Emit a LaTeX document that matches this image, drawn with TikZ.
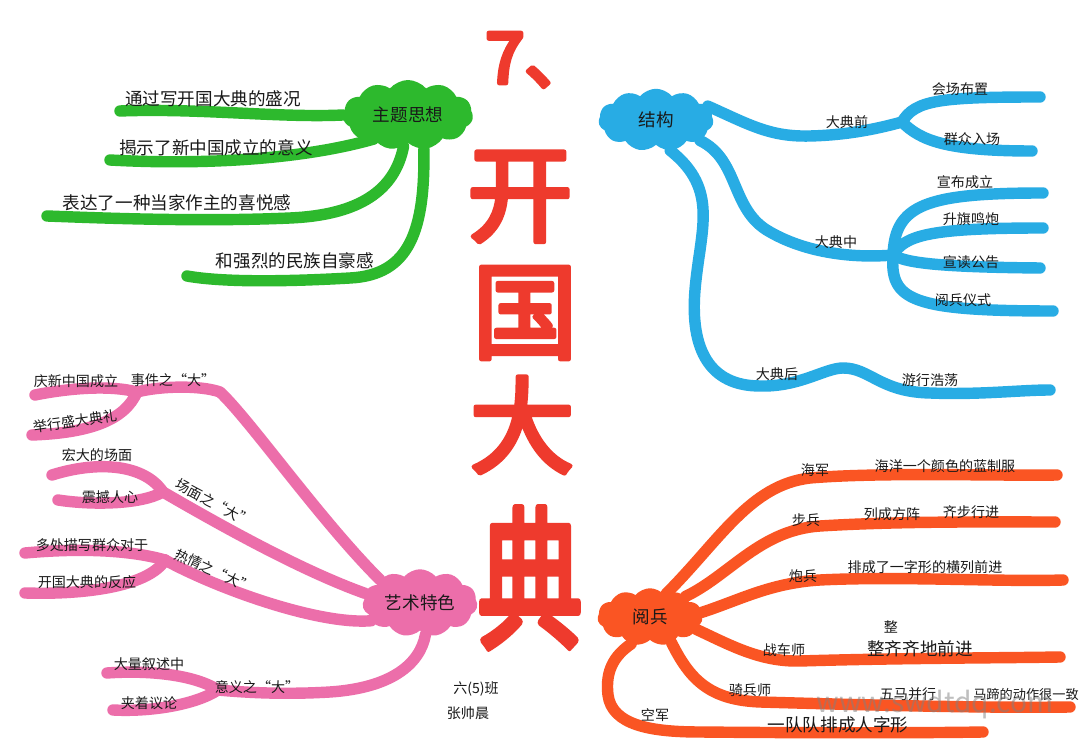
\documentclass[tikz,border=0pt]{standalone}
\usepackage{fontspec}
\setmainfont{Noto Sans CJK SC}
\usetikzlibrary{shapes.symbols}
\definecolor{mygreen}{RGB}{45, 185, 45}
\definecolor{myblue}{RGB}{40, 172, 228}
\definecolor{mypink}{RGB}{236, 110, 170}
\definecolor{myorange}{RGB}{250, 85, 35}
\definecolor{myred}{RGB}{238, 58, 45}
\definecolor{mydark}{RGB}{25, 25, 25}
\pgfdeclarelayer{bg}
\pgfsetlayers{bg,main}
\newcommand{\brush}[1]{\special{pdf:code 2 Tr 2.6 w 1 j}#1\special{pdf:code 0 Tr}}

\begin{document}
\begin{tikzpicture}[x=0.02cm, y=-0.02cm]
\tikzset{
  topic/.style={cloud, cloud puffs=11, cloud puff arc=100, cloud ignores aspect, inner sep=0pt, font=\fontsize{10}{12}\selectfont, mydark},
  branch/.style={line width=6.5pt, line cap=round, line join=round},
  lbl/.style={inner sep=0pt, font=\fontsize{10}{12}\selectfont, mydark},
  sublbl/.style={inner sep=0pt, font=\fontsize{8}{10}\selectfont, mydark},
  titlechar/.style={inner sep=0pt, myred, font=\fontsize{60}{60}\selectfont}
}
\useasboundingbox (0,0) rectangle (1080,749);

% title
\node[titlechar, font=\fontsize{40}{40}\selectfont] (t0) at (540,60) {\brush{7、}};
\node[titlechar] (t1) at (520,197) {\brush{开}};
\node[titlechar] (t2) at (525,313) {\brush{国}};
\node[titlechar] (t3) at (522,425) {\brush{大}};
\node[titlechar] (t4) at (530,578) {\scalebox{1}[1.45]{\brush{典}}};

% clouds
\node[topic, fill=mygreen, minimum width=2.6cm, minimum height=1.4cm] (zt) at (408,115) {主题思想};
\node[topic, fill=myblue, minimum width=2.3cm, minimum height=1.25cm] (bt) at (656,120) {结构};
\node[topic, fill=mypink, minimum width=2.3cm, minimum height=1.35cm] (yt) at (420,603) {艺术特色};
\node[topic, fill=myorange, minimum width=2.1cm, minimum height=1.15cm] (rt) at (650,617) {阅兵};

% branch ends
\coordinate (g1) at (120,111);
\coordinate (g2) at (110,160);
\coordinate (g3) at (47,216);
\coordinate (g4) at (187,276);
\coordinate (bq) at (902,122);
\coordinate (bz) at (893,255);
\coordinate (b1) at (1040,97);
\coordinate (b2) at (1032,151);
\coordinate (b3) at (1043,193);
\coordinate (b4) at (1043,228);
\coordinate (b5) at (1040,268);
\coordinate (b6) at (1053,311);
\coordinate (b7) at (1050,390);
\coordinate (pa) at (137,392);
\coordinate (pb) at (163,492);
\coordinate (pc) at (165,560);
\coordinate (pd) at (218,690);
\coordinate (p1) at (35,395);
\coordinate (p2) at (32,435);
\coordinate (p3) at (52,475);
\coordinate (p4) at (58,500);
\coordinate (p5) at (25,553);
\coordinate (p6) at (25,593);
\coordinate (p7) at (107,673);
\coordinate (p8) at (113,710);
\coordinate (r1) at (1057,475);
\coordinate (r2) at (1055,522);
\coordinate (r3) at (1063,580);
\coordinate (r4) at (1060,657);
\coordinate (r5) at (1070,707);
\coordinate (r6) at (983,732);

\begin{pgfonlayer}{bg}
\fill[white] (0,0) rectangle (1080,749);
% green
\draw[branch, mygreen] (zt.west) .. controls (280,118) and (200,108) .. (g1);
\draw[branch, mygreen] (zt.215) .. controls (300,160) and (200,165) .. (g2);
\draw[branch, mygreen] (zt.262) .. controls (395,190) and (360,215) .. (290,218) .. controls (200,222) and (100,218) .. (g3);
\draw[branch, mygreen] (zt.295) .. controls (425,230) and (410,275) .. (350,278) .. controls (280,282) and (220,282) .. (g4);
% blue
\draw[branch, myblue] (bt.15) .. controls (750,125) and (770,137) .. (810,136) .. controls (850,135) and (880,128) .. (bq);
\draw[branch, myblue] (bq) .. controls (915,100) and (940,97) .. (b1);
\draw[branch, myblue] (bq) .. controls (920,140) and (945,151) .. (b2);
\draw[branch, myblue] (bt.-25) .. controls (740,160) and (730,210) .. (770,232) .. controls (810,255) and (860,258) .. (bz);
\draw[branch, myblue] (bz) .. controls (895,205) and (925,193) .. (b3);
\draw[branch, myblue] (bz) .. controls (905,235) and (930,228) .. (b4);
\draw[branch, myblue] (bz) .. controls (905,262) and (930,267) .. (b5);
\draw[branch, myblue] (bz) .. controls (890,300) and (910,311) .. (b6);
\draw[branch, myblue] (bt.-65) .. controls (720,190) and (700,230) .. (695,290) .. controls (690,350) and (710,386) .. (760,386) .. controls (800,387) and (825,368) .. (843,368) .. controls (870,368) and (880,392) .. (930,393) .. controls (980,395) and (1020,390) .. (b7);
% pink
\draw[branch, mypink] (yt.150) .. controls (320,520) and (250,420) .. (220,392) .. controls (200,385) and (160,386) .. (pa);
\draw[branch, mypink] (pa) .. controls (110,385) and (70,388) .. (p1);
\draw[branch, mypink] (pa) .. controls (125,420) and (90,433) .. (p2);
\draw[branch, mypink] (yt.170) .. controls (300,570) and (220,525) .. (pb);
\draw[branch, mypink] (pb) .. controls (145,465) and (100,460) .. (p3);
\draw[branch, mypink] (pb) .. controls (140,505) and (90,505) .. (p4);
\draw[branch, mypink] (yt.200) .. controls (320,625) and (220,590) .. (pc);
\draw[branch, mypink] (pc) .. controls (130,550) and (80,548) .. (p5);
\draw[branch, mypink] (pc) .. controls (150,585) and (90,595) .. (p6);
\draw[branch, mypink] (yt.280) .. controls (420,665) and (390,688) .. (330,692) .. controls (280,695) and (240,692) .. (pd);
\draw[branch, mypink] (pd) .. controls (195,675) and (150,670) .. (p7);
\draw[branch, mypink] (pd) .. controls (195,705) and (150,712) .. (p8);
% orange
\draw[branch, myorange] (rt.55) .. controls (720,540) and (750,485) .. (810,478) .. controls (880,472) and (1000,476) .. (r1);
\draw[branch, myorange] (rt.30) .. controls (730,575) and (760,530) .. (820,526) .. controls (900,521) and (1000,522) .. (r2);
\draw[branch, myorange] (rt.5) .. controls (740,600) and (770,583) .. (820,580) .. controls (900,576) and (1000,582) .. (r3);
\draw[branch, myorange] (rt.-15) .. controls (730,645) and (760,662) .. (800,661) .. controls (900,658) and (1000,658) .. (r4);
\draw[branch, myorange] (rt.-50) .. controls (690,680) and (710,700) .. (760,702) .. controls (900,706) and (1000,708) .. (r5);
\draw[branch, myorange] (rt.-125) .. controls (615,655) and (605,670) .. (608,695) .. controls (612,725) and (650,732) .. (700,732) .. controls (800,733) and (930,733) .. (r6);
\end{pgfonlayer}

% green labels
\node[lbl] (g1t) at (213,99) {通过写开国大典的盛况};
\node[lbl] (g2t) at (216,148) {揭示了新中国成立的意义};
\node[lbl] (g3t) at (177,203) {表达了一种当家作主的喜悦感};
\node[lbl] (g4t) at (295,261) {和强烈的民族自豪感};

% blue labels
\node[sublbl] (bqt) at (847,122) {大典前};
\node[sublbl] (b1t) at (960,89) {会场布置};
\node[sublbl] (b2t) at (972,139) {群众入场};
\node[sublbl] (bzt) at (836,242) {大典中};
\node[sublbl] (b3t) at (965,182) {宣布成立};
\node[sublbl] (b4t) at (971,219) {升旗鸣炮};
\node[sublbl] (b5t) at (971,262) {宣读公告};
\node[sublbl] (b6t) at (963,300) {阅兵仪式};
\node[sublbl] (bht) at (777,374) {大典后};
\node[sublbl] (b7t) at (930,380) {游行浩荡};

% pink labels
\node[sublbl] (pat) at (173,380) {事件之“大”};
\node[sublbl] (p1t) at (76,381) {庆新中国成立};
\node[sublbl, rotate=8] (p2t) at (75,421) {举行盛大典礼};
\node[sublbl] (pbt) at (97,455) {宏大的场面};
\node[sublbl] (p4t) at (110,497) {震撼人心};
\node[sublbl, rotate=-28] (p3t) at (214,503) {场面之“大”};
\node[sublbl] (p5t) at (92,545) {多处描写群众对于};
\node[sublbl] (p6t) at (87,582) {开国大典的反应};
\node[sublbl, rotate=-25] (pct) at (214,571) {热情之“大”};
\node[sublbl] (p7t) at (149,664) {大量叙述中};
\node[sublbl] (p8t) at (149,703) {夹着议论};
\node[sublbl] (pdt) at (257,687) {意义之“大”};

% orange labels
\node[sublbl] (r1a) at (815,470) {海军};
\node[sublbl] (r1t) at (945,466) {海洋一个颜色的蓝制服};
\node[sublbl] (r2a) at (806,520) {步兵};
\node[sublbl] (r2t) at (892,514) {列成方阵};
\node[sublbl] (r2u) at (971,512) {齐步行进};
\node[sublbl] (r3a) at (803,576) {炮兵};
\node[sublbl] (r3t) at (925,567) {排成了一字形的横列前进};
\node[sublbl] (r4a) at (784,650) {战车师};
\node[lbl] (r4t) at (920,649) {整齐齐地前进};
\node[sublbl] (r4u) at (891,627) {整};
\node[sublbl] (r5a) at (750,690) {骑兵师};
\node[sublbl] (r5t) at (908,694) {五马并行};
\node[inner sep=0pt, font=\fontsize{7.5}{9}\selectfont, mydark] (r5u) at (1026,694) {马蹄的动作很一致};
\node[sublbl] (r6a) at (655,715) {空军};
\node[lbl] (r6t) at (838,725) {一队队排成人字形};

% class and name
\node[sublbl] (cls) at (476,689) {六(5)班};
\node[sublbl] (nm) at (468,713) {张帅晨};

\node[inner sep=0pt, font=\fontsize{16}{18}\selectfont, gray, opacity=0.5] (wm) at (935,705) {www.swdtdq.com};
\end{tikzpicture}
\end{document}
